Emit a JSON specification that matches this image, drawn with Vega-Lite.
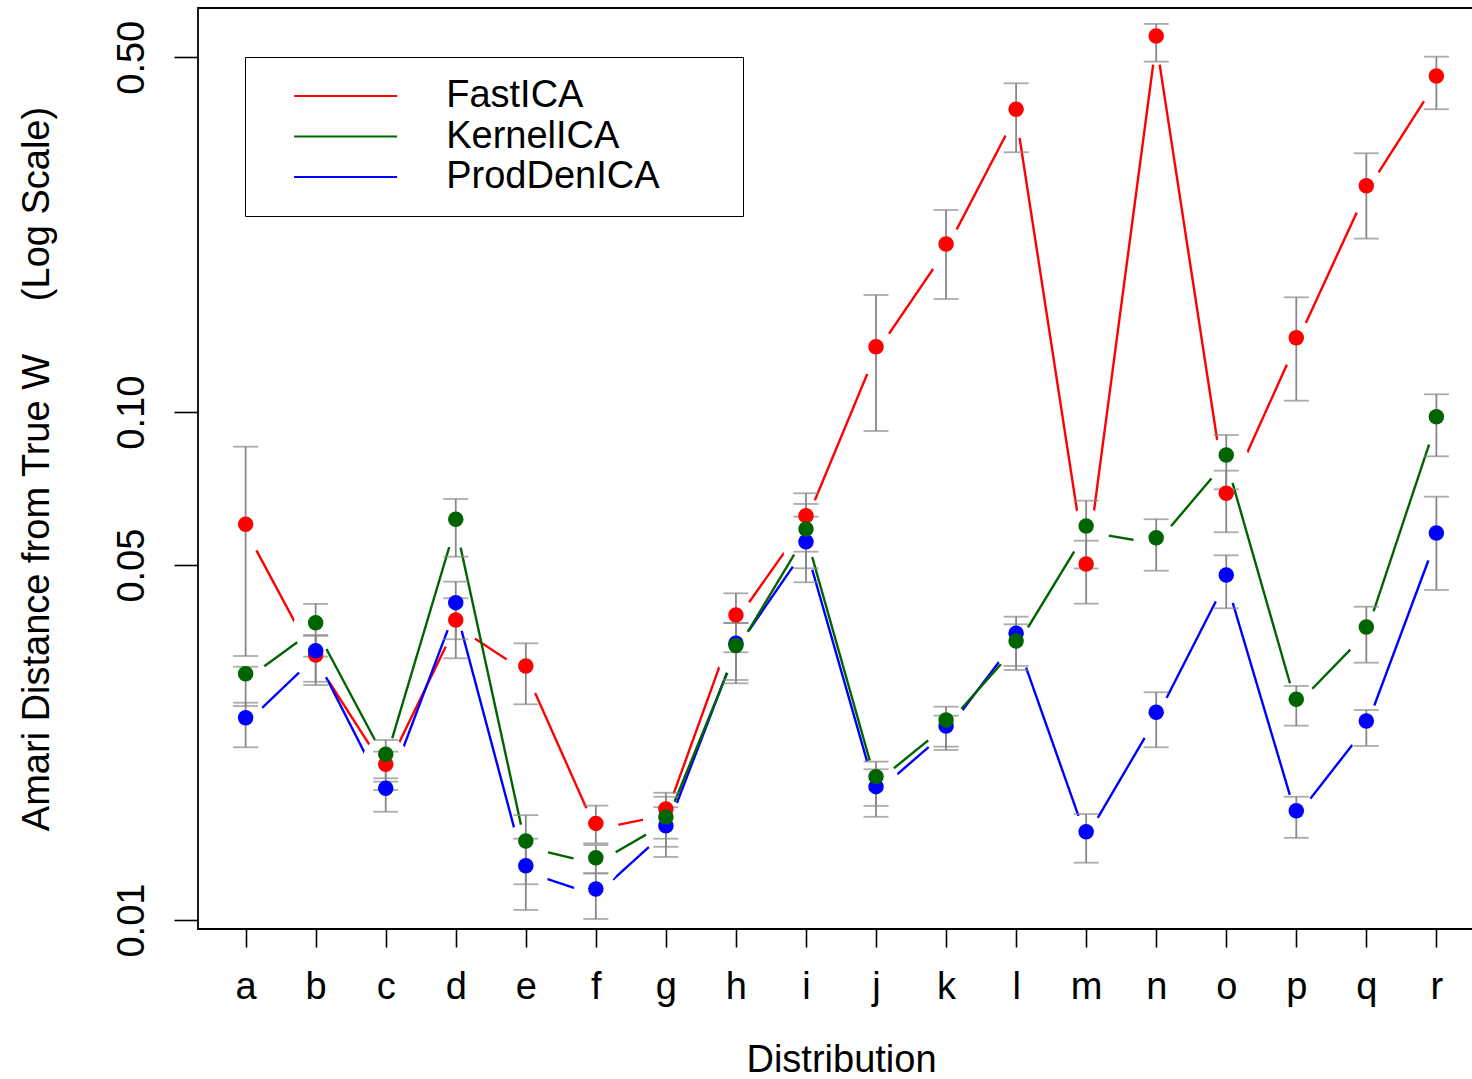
{
  "$schema": "https://vega.github.io/schema/vega-lite/v6.json",
  "width": 1286,
  "height": 921,
  "autosize": {"type": "none"},
  "padding": {"left": 198, "top": 8, "right": 0, "bottom": 150},
  "background": "white",
  "data": {"values": [
    {"d":"a","m":"FastICA","v":0.06017,"lo":0.03311,"hi":0.08553},
    {"d":"b","m":"FastICA","v":0.03326,"lo":0.02903,"hi":0.03626},
    {"d":"c","m":"FastICA","v":0.02027,"lo":0.01804,"hi":0.02146},
    {"d":"d","m":"FastICA","v":0.03898,"lo":0.03277,"hi":0.04302},
    {"d":"e","m":"FastICA","v":0.03165,"lo":0.02660,"hi":0.03507},
    {"d":"f","m":"FastICA","v":0.01550,"lo":0.01416,"hi":0.01680},
    {"d":"g","m":"FastICA","v":0.01654,"lo":0.01446,"hi":0.01781},
    {"d":"h","m":"FastICA","v":0.03988,"lo":0.03367,"hi":0.04400},
    {"d":"i","m":"FastICA","v":0.06256,"lo":0.05313,"hi":0.06925},
    {"d":"j","m":"FastICA","v":0.13456,"lo":0.09183,"hi":0.17016},
    {"d":"k","m":"FastICA","v":0.21450,"lo":0.16711,"hi":0.25016},
    {"d":"l","m":"FastICA","v":0.39498,"lo":0.32500,"hi":0.44436},
    {"d":"m","m":"FastICA","v":0.05025,"lo":0.04198,"hi":0.05585},
    {"d":"n","m":"FastICA","v":0.55076,"lo":0.49016,"hi":0.58153},
    {"d":"o","m":"FastICA","v":0.06925,"lo":0.05802,"hi":0.07672},
    {"d":"p","m":"FastICA","v":0.14017,"lo":0.10537,"hi":0.16839},
    {"d":"q","m":"FastICA","v":0.27929,"lo":0.21971,"hi":0.32353},
    {"d":"r","m":"FastICA","v":0.45933,"lo":0.39498,"hi":0.50136},
    {"d":"a","m":"ProdDenICA","v":0.02503,"lo":0.02189,"hi":0.02679},
    {"d":"b","m":"ProdDenICA","v":0.03391,"lo":0.02946,"hi":0.03642},
    {"d":"c","m":"ProdDenICA","v":0.01818,"lo":0.01634,"hi":0.01873},
    {"d":"d","m":"ProdDenICA","v":0.04217,"lo":0.03572,"hi":0.04638},
    {"d":"e","m":"ProdDenICA","v":0.01279,"lo":0.01047,"hi":0.01446},
    {"d":"f","m":"ProdDenICA","v":0.01151,"lo":0.01005,"hi":0.01236},
    {"d":"g","m":"ProdDenICA","v":0.01534,"lo":0.01331,"hi":0.01668},
    {"d":"h","m":"ProdDenICA","v":0.03507,"lo":0.02970,"hi":0.03845},
    {"d":"i","m":"ProdDenICA","v":0.05560,"lo":0.04625,"hi":0.06227},
    {"d":"j","m":"ProdDenICA","v":0.01831,"lo":0.01597,"hi":0.01981},
    {"d":"k","m":"ProdDenICA","v":0.02410,"lo":0.02162,"hi":0.02526},
    {"d":"l","m":"ProdDenICA","v":0.03670,"lo":0.03165,"hi":0.03957},
    {"d":"m","m":"ProdDenICA","v":0.01493,"lo":0.01297,"hi":0.01617},
    {"d":"n","m":"ProdDenICA","v":0.02566,"lo":0.02189,"hi":0.02809},
    {"d":"o","m":"ProdDenICA","v":0.04780,"lo":0.04111,"hi":0.05227},
    {"d":"p","m":"ProdDenICA","v":0.01642,"lo":0.01452,"hi":0.01749},
    {"d":"q","m":"ProdDenICA","v":0.02466,"lo":0.02202,"hi":0.02592},
    {"d":"r","m":"ProdDenICA","v":0.05784,"lo":0.04467,"hi":0.06819},
    {"d":"a","m":"KernelICA","v":0.03055,"lo":0.02639,"hi":0.03154},
    {"d":"b","m":"KernelICA","v":0.03850,"lo":0.03301,"hi":0.04193},
    {"d":"c","m":"KernelICA","v":0.02121,"lo":0.01902,"hi":0.02262},
    {"d":"d","m":"KernelICA","v":0.06155,"lo":0.05194,"hi":0.06748},
    {"d":"e","m":"KernelICA","v":0.01431,"lo":0.01176,"hi":0.01609},
    {"d":"f","m":"KernelICA","v":0.01326,"lo":0.01236,"hi":0.01405},
    {"d":"g","m":"KernelICA","v":0.01595,"lo":0.01394,"hi":0.01749},
    {"d":"h","m":"KernelICA","v":0.03472,"lo":0.02925,"hi":0.03845},
    {"d":"i","m":"KernelICA","v":0.05890,"lo":0.04928,"hi":0.06597},
    {"d":"j","m":"KernelICA","v":0.01916,"lo":0.01678,"hi":0.02051},
    {"d":"k","m":"KernelICA","v":0.02477,"lo":0.02195,"hi":0.02631},
    {"d":"l","m":"KernelICA","v":0.03544,"lo":0.03107,"hi":0.03823},
    {"d":"m","m":"KernelICA","v":0.05971,"lo":0.04924,"hi":0.06696},
    {"d":"n","m":"KernelICA","v":0.05662,"lo":0.04874,"hi":0.06155},
    {"d":"o","m":"KernelICA","v":0.08236,"lo":0.07051,"hi":0.09018},
    {"d":"p","m":"KernelICA","v":0.02721,"lo":0.02414,"hi":0.02890},
    {"d":"q","m":"KernelICA","v":0.03776,"lo":0.03212,"hi":0.04140},
    {"d":"r","m":"KernelICA","v":0.09800,"lo":0.08188,"hi":0.10847}
  ]},
  "encoding": {
    "x": {
      "field": "d", "type": "nominal",
      "scale": {"type": "point", "padding": 0.68},
      "axis": {
        "labelAngle": 0, "labelFontSize": 38, "labelFont": "Liberation Sans", "labelColor": "black",
        "labelBaseline": "alphabetic", "labelPadding": 51,
        "tickSize": 18, "tickWidth": 1.6, "tickColor": "black",
        "domain": false, "grid": false,
        "title": "Distribution", "titleFontSize": 38, "titleFont": "Liberation Sans", "titleFontWeight": "normal",
        "titleColor": "black", "titleY": 142, "titleBaseline": "alphabetic"
      }
    },
    "y": {
      "field": "v", "type": "quantitative",
      "title": "Amari Distance from True W\u00a0\u00a0\u00a0\u00a0\u00a0(Log Scale)",
      "scale": {"type": "log", "domain": [0.009602, 0.6251], "nice": false},
      "axis": {
        "values": [0.01, 0.05, 0.1, 0.5], "format": ".2f", "grid": false, "domain": false,
        "tickSize": 24, "tickWidth": 1.6, "tickColor": "black",
        "labelAngle": -90, "labelAlign": "center", "labelBaseline": "alphabetic", "labelPadding": 31,
        "labelFontSize": 38, "labelFont": "Liberation Sans", "labelColor": "black", "labelOverlap": false,
        "titleFontSize": 38, "titleFont": "Liberation Sans", "titleFontWeight": "normal", "titleColor": "black",
        "titleAngle": -90, "titleX": -150, "titleY": 460.5, "titleAlign": "center", "titleBaseline": "alphabetic"
      }
    }
  },
  "layer": [
    {
      "transform": [{"filter": "datum.m === 'FastICA'"}],
      "mark": {"type": "line", "strokeWidth": 2.4, "yOffset": 6},
      "encoding": {
        "color": {"field": "m", "type": "nominal",
          "scale": {"domain": ["FastICA", "KernelICA", "ProdDenICA"], "range": ["#FF0000", "#006400", "#0000FF"]},
          "legend": {"orient": "none", "legendX": 47, "legendY": 49, "title": null,
            "symbolType": "M-4,0L4,0", "symbolSize": 663, "symbolStrokeWidth": 2.2, "symbolOffset": 61.6,
            "labelOffset": 81.6, "labelFontSize": 38, "labelFont": "Liberation Sans", "labelColor": "black",
            "labelLimit": 600, "labelExpr": "datum.label + '\u00a0\u00a0\u00a0\u00a0\u00a0\u00a0\u200b'",
            "padding": 20, "rowPadding": 2.5, "strokeColor": "black"}}
      }
    },
    {
      "transform": [{"filter": "datum.m === 'FastICA'"}],
      "mark": {"type": "point", "filled": true, "color": "white", "size": 2124, "yOffset": 6, "opacity": 1, "strokeWidth": 0}
    },
    {
      "transform": [{"filter": "datum.m === 'ProdDenICA'"}],
      "mark": {"type": "line", "strokeWidth": 2.4, "yOffset": 6},
      "encoding": {
        "color": {"field": "m", "type": "nominal"}
      }
    },
    {
      "transform": [{"filter": "datum.m === 'ProdDenICA'"}],
      "mark": {"type": "point", "filled": true, "color": "white", "size": 2124, "yOffset": 6, "opacity": 1, "strokeWidth": 0}
    },
    {
      "transform": [{"filter": "datum.m === 'KernelICA'"}],
      "mark": {"type": "line", "strokeWidth": 2.4, "yOffset": 6},
      "encoding": {
        "color": {"field": "m", "type": "nominal"}
      }
    },
    {
      "transform": [{"filter": "datum.m === 'KernelICA'"}],
      "mark": {"type": "point", "filled": true, "color": "white", "size": 2124, "yOffset": 6, "opacity": 1, "strokeWidth": 0}
    },
    {
      "mark": {"type": "rule", "color": "#888888", "strokeWidth": 1.8},
      "encoding": {
        "y": {"field": "lo", "type": "quantitative", "title": "Amari Distance from True W\u00a0\u00a0\u00a0\u00a0\u00a0(Log Scale)"},
        "y2": {"field": "hi"}
      }
    },
    {
      "mark": {"type": "tick", "color": "#888888", "size": 25, "thickness": 1.8},
      "encoding": {
        "y": {"field": "lo", "type": "quantitative", "title": "Amari Distance from True W\u00a0\u00a0\u00a0\u00a0\u00a0(Log Scale)"}
      }
    },
    {
      "mark": {"type": "tick", "color": "#888888", "size": 25, "thickness": 1.8},
      "encoding": {
        "y": {"field": "hi", "type": "quantitative", "title": "Amari Distance from True W\u00a0\u00a0\u00a0\u00a0\u00a0(Log Scale)"}
      }
    },
    {
      "mark": {"type": "point", "filled": true, "size": 240, "opacity": 1},
      "encoding": {
        "color": {"field": "m", "type": "nominal"}
      }
    }
  ],
  "config": {
    "font": "Liberation Sans",
    "view": {"stroke": "black", "strokeWidth": 1.8}
  }
}
